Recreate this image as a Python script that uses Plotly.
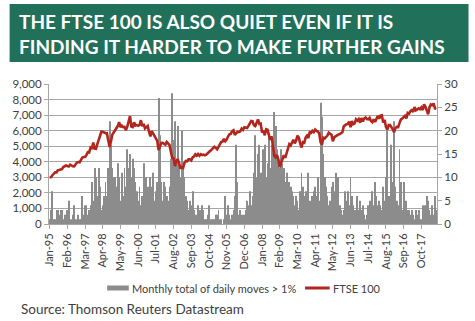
import pandas as pd
import plotly.graph_objects as go

# FTSE 100 month-end level (Jan-95 .. Sep-18), left axis
ftse = [
    2992, 3010, 3137, 3216, 3319, 3315, 3463, 3477, 3508, 3529, 3664, 3689,
    3760, 3727, 3699, 3818, 3747, 3711, 3703, 3867, 3953, 3980, 3966, 4119,
    4275, 4309, 4313, 4436, 4621, 4604, 4907, 4818, 5245, 4842, 4831, 5136,
    5458, 5767, 5932, 5928, 5870, 5833, 5837, 5249, 4950, 5300, 5744, 5883,
    6023, 6176, 6296, 6552, 6226, 6319, 6231, 6246, 6030, 6255, 6597, 6930,
    6269, 6232, 6540, 6327, 6359, 6313, 6365, 6673, 6294, 6438, 6142, 6222,
    6298, 5918, 5634, 5967, 5796, 5643, 5529, 5345, 4750, 5040, 5204, 5217,
    5164, 5101, 5272, 5165, 5086, 4656, 4246, 4227, 3722, 4039, 4169, 3940,
    3567, 3656, 3613, 3926, 4048, 4031, 4157, 4161, 4091, 4288, 4342, 4477,
    4390, 4492, 4386, 4489, 4431, 4464, 4413, 4459, 4571, 4624, 4703, 4814,
    4852, 4968, 4894, 4802, 4964, 5113, 5282, 5296, 5478, 5317, 5423, 5619,
    5760, 5792, 5965, 6023, 5723, 5833, 5928, 5906, 5961, 6129, 6048, 6221,
    6203, 6172, 6308, 6449, 6621, 6608, 6360, 6303, 6467, 6722, 6432, 6457,
    5880, 6000, 5702, 6087, 6053, 5626, 5412, 5637, 4902, 4377, 4288, 4434,
    4150, 3650, 3926, 4244, 4418, 4249, 4608, 4909, 5134, 5045, 5191, 5413,
    5189, 5355, 5680, 5553, 5188, 4917, 5258, 5225, 5549, 5675, 5528, 5900,
    5863, 5994, 5909, 6070, 5990, 5946, 5815, 5250, 5100, 5545, 5505, 5572,
    5682, 5872, 5768, 5738, 5321, 5571, 5635, 5711, 5742, 5783, 5867, 5898,
    6277, 6361, 6412, 6430, 6583, 6215, 6621, 6413, 6462, 6731, 6651, 6749,
    6510, 6810, 6598, 6780, 6845, 6744, 6730, 6820, 6623, 6546, 6723, 6566,
    6749, 6947, 6773, 6961, 6984, 6521, 6696, 6248, 6062, 6361, 6356, 6242,
    6084, 5900, 6175, 6242, 6231, 6504, 6724, 6782, 6899, 6954, 6784, 7143,
    7099, 7263, 7323, 7204, 7520, 7313, 7372, 7431, 7373, 7493, 7327, 7688,
    7534, 7232, 7057, 7509, 7678, 7637, 7749, 7432, 7400,
]

# Monthly total of daily moves > 1%, right axis
moves = [
    1, 3, 7, 1, 1, 3, 3, 2, 3, 3, 1, 2,
    2, 3, 5, 1, 1, 2, 4, 1, 1, 2, 1, 1,
    6, 2, 4, 4, 2, 3, 4, 9, 5, 12, 10, 6,
    12, 8, 3, 4, 6, 9, 6, 12, 22, 17, 12, 10,
    10, 8, 13, 10, 5, 11, 6, 12, 8, 16, 12, 15,
    10, 14, 12, 9, 7, 5, 8, 4, 6, 13, 9, 10,
    8, 6, 10, 8, 11, 5, 7, 9, 27, 19, 9, 5,
    9, 8, 6, 5, 8, 14, 28, 18, 22, 14, 21, 12,
    10, 20, 12, 10, 6, 5, 3, 5, 4, 7, 3, 2,
    2, 4, 3, 3, 4, 3, 1, 1, 2, 4, 1, 1,
    1, 1, 2, 2, 3, 1, 1, 0, 1, 6, 2, 4,
    2, 1, 2, 3, 6, 17, 9, 2, 3, 2, 1, 2,
    3, 5, 4, 7, 4, 6, 11, 19, 10, 15, 17, 11,
    9, 16, 17, 10, 13, 19, 12, 17, 14, 24, 21, 16,
    13, 12, 16, 13, 12, 9, 11, 8, 9, 8, 7, 6,
    4, 6, 5, 3, 7, 11, 8, 6, 7, 4, 11, 5,
    4, 6, 7, 8, 6, 10, 5, 26, 23, 15, 10, 8,
    6, 4, 5, 8, 9, 7, 11, 5, 10, 4, 3, 2,
    3, 7, 5, 7, 4, 10, 6, 4, 3, 2, 6, 3,
    5, 3, 4, 2, 1, 2, 4, 5, 3, 7, 4, 9,
    6, 4, 5, 4, 3, 8, 5, 10, 20, 6, 5, 17,
    9, 22, 8, 5, 4, 16, 9, 3, 9, 4, 5, 3,
    3, 2, 3, 2, 1, 3, 2, 3, 1, 1, 4, 2,
    4, 6, 5, 3, 2, 4, 2, 6, 3,
]

months = list(range(len(ftse)))  # month index from Jan-95

tick_labels = ["Jan-95", "Feb-96", "Mar-97", "Apr-98", "May-99", "Jun-00",
               "Jul-01", "Aug-02", "Sep-03", "Oct-04", "Nov-05", "Dec-06",
               "Jan-08", "Feb-09", "Mar-10", "Apr-11", "May-12", "Jun-13",
               "Jul-14", "Aug-15", "Sep-16", "Oct-17"]
tick_positions = months[::13][:len(tick_labels)]

title_lines = ["THE FTSE 100 IS ALSO QUIET EVEN IF IT IS",
               "FINDING IT HARDER TO MAKE FURTHER GAINS"]
bar_name = "Monthly total of daily moves > 1%"
line_name = "FTSE 100"
source = "Source: Thomson Reuters Datastream"

W, H = 475, 321
L, R, T, B = 43, 437, 84, 224
pw, ph = R - L, B - T


def px(x):
    return (x - L) / pw


def py(y):
    return (B - y) / ph


TXT = "#404040"
GRID = "#a6a6a6"
BARC = "#8c8c8c"
RED = "#b3261e"
FONT = "Lato"

fig = go.Figure()
fig.add_trace(go.Bar(x=months, y=moves, name=bar_name, marker_color=BARC,
                     marker_line_width=0, yaxis="y"))
fig.add_trace(go.Scatter(x=months, y=ftse, name=line_name, mode="lines",
                         line=dict(color=RED, width=2.6), yaxis="y2"))

fig.update_layout(
    width=W, height=H,
    margin=dict(l=L, r=W - R, t=T, b=H - B, pad=0),
    paper_bgcolor="white", plot_bgcolor="white",
    showlegend=False, bargap=0.35,
    font=dict(family=FONT, size=11, color=TXT),
    xaxis=dict(range=[-0.5, len(months) - 0.5], tickvals=tick_positions,
               ticktext=tick_labels, tickangle=-90, ticks="outside",
               ticklen=4, tickcolor=GRID, showline=True, linecolor=GRID,
               showgrid=False, zeroline=False, tickfont=dict(size=11, color=TXT)),
    yaxis=dict(range=[0, 30], dtick=5, side="right", showgrid=False,
               zeroline=False, showline=True, linecolor=GRID, ticks="outside",
               ticklen=4, tickcolor=GRID, tickfont=dict(size=11.5, color=TXT)),
    yaxis2=dict(range=[0, 9000], dtick=1000, overlaying="y", side="left",
                tickformat=",d", showgrid=True, gridcolor=GRID, gridwidth=1,
                zeroline=False, showline=True, linecolor=GRID, ticks="outside",
                ticklen=4, tickcolor=GRID, tickfont=dict(size=11.5, color=TXT)),
)

shapes = [
    dict(type="rect", xref="paper", yref="paper", x0=px(3), x1=px(469),
         y0=py(62), y1=py(4), fillcolor="#21705a", line_width=0, layer="below"),
    dict(type="rect", xref="paper", yref="paper", x0=px(102), x1=px(124),
         y0=py(290.5), y1=py(285.5), fillcolor=BARC, line_width=0),
    dict(type="line", xref="paper", yref="paper", x0=px(303), x1=px(328),
         y0=py(288), y1=py(288), line=dict(color=RED, width=3)),
]
fig.update_layout(shapes=shapes)

ann = [
    dict(text=title_lines[0], x=px(11), y=py(21), xanchor="left", yanchor="middle",
         font=dict(family=FONT, size=19, color="white", weight="bold")),
    dict(text=title_lines[1], x=px(11), y=py(46), xanchor="left", yanchor="middle",
         font=dict(family=FONT, size=19, color="white", weight="bold")),
    dict(text=bar_name, x=px(125), y=py(288), xanchor="left", yanchor="middle",
         font=dict(size=11, color=TXT)),
    dict(text=line_name, x=px(329), y=py(288), xanchor="left", yanchor="middle",
         font=dict(size=11, color=TXT)),
    dict(text=source, x=px(13), y=py(309), xanchor="left", yanchor="middle",
         font=dict(size=13.5, color="#404040")),
]
for a in ann:
    a.update(xref="paper", yref="paper", showarrow=False)
fig.update_layout(annotations=ann)

fig.write_html("out.html")
